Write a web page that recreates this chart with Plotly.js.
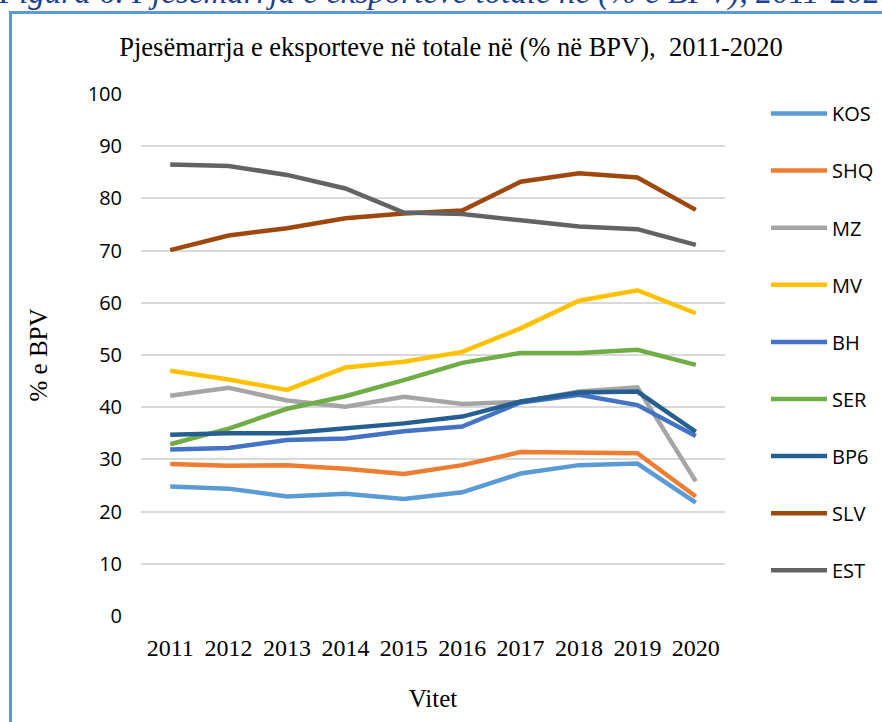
<!DOCTYPE html>
<html>
<head>
<meta charset="utf-8">
<script src="https://cdn.plot.ly/plotly-3.0.1.min.js"></script>
<style>
html,body{margin:0;padding:0;background:#fff;overflow:hidden;}
#wrap{position:relative;width:882px;height:722px;overflow:hidden;}
#frame{position:absolute;left:9px;top:11px;width:900px;height:800px;border-left:3px solid #5B9BD5;border-top:3px solid #5B9BD5;pointer-events:none;}
#chart{position:absolute;left:0;top:0;width:940px;height:722px;}
</style>
</head>
<body>
<div id="wrap"><div id="chart"></div><div id="frame"></div></div>
<script>
const years = ['2011','2012','2013','2014','2015','2016','2017','2018','2019','2020'];
const seriesNames = ['KOS','SHQ','MZ','MV','BH','SER','BP6','SLV','EST'];
const KOS = [24.8, 24.4, 22.9, 23.4, 22.4, 23.7, 27.3, 28.9, 29.2, 21.7];
const SHQ = [29.1, 28.8, 28.9, 28.2, 27.2, 28.9, 31.4, 31.4, 31.2, 22.9];
const MZ  = [42.2, 43.7, 41.3, 40.1, 42.0, 40.6, 41.0, 43.0, 43.8, 25.8];
const MV  = [47.0, 45.3, 43.3, 47.6, 48.7, 50.6, 55.1, 60.4, 62.4, 58.0];
const BH  = [31.9, 32.2, 33.7, 34.0, 35.4, 36.3, 40.9, 42.4, 40.4, 34.5];
const SER = [32.9, 35.9, 39.7, 42.1, 45.2, 48.5, 50.4, 50.4, 51.0, 48.1];
const BP6 = [34.7, 35.0, 35.0, 36.0, 36.9, 38.2, 41.1, 42.8, 43.0, 35.3];
const SLV = [70.1, 72.9, 74.3, 76.2, 77.1, 77.7, 83.2, 84.8, 84.0, 77.8];
const EST = [86.5, 86.2, 84.5, 81.9, 77.3, 77.0, 75.8, 74.6, 74.1, 71.1];
const seriesValues = [KOS, SHQ, MZ, MV, BH, SER, BP6, SLV, EST];
const seriesColors = ['#5B9BD5','#ED7D31','#A5A5A5','#FFC000','#4472C4','#70AD47','#255E91','#9E480E','#636363'];
const yTicks = [0,10,20,30,40,50,60,70,80,90,100];

const traces = seriesNames.map((n,i)=>({
  type:'scatter', mode:'lines', name:n, x:years, y:seriesValues[i],
  legendgroup:n,
  line:{color:seriesColors[i], width:4.5, shape:'linear'},
  hoverinfo:'x+y+name'
}));

const serif = 'Liberation Serif, Times New Roman, serif';
const sans = 'Open Sans, Lato, sans-serif';
const W = 940;

const layout = {
  width:W, height:722,
  margin:{l:141, r:W-725, t:94, b:106, pad:0},
  paper_bgcolor:'#fff', plot_bgcolor:'#fff',
  showlegend:true,
  title:{text:'Pjesëmarrja e eksporteve në totale në (% në BPV),  2011-2020',
    font:{family:serif, size:26.5, color:'#000'}, xref:'container', x:451/W, xanchor:'center',
    yref:'container', y:1-47/722, yanchor:'middle'},
  xaxis:{type:'category', categoryorder:'array', categoryarray:years,
    range:[-0.5, 9.5], showgrid:false, zeroline:false, showline:false, ticks:'',
    tickfont:{family:serif, size:24, color:'#000'}, ticklabelstandoff:15,
    title:{text:'Vitet', font:{family:serif, size:25, color:'#000'}, standoff:29}},
  yaxis:{range:[0,100], tickvals:yTicks, ticktext:yTicks.map(String), showgrid:true,
    gridcolor:'#D9D9D9', gridwidth:2, zeroline:false, showline:false, ticks:'',
    tickfont:{family:sans, size:20, color:'#000'}, ticklabelstandoff:18,
    title:{text:'% e BPV', font:{family:serif, size:25, color:'#000'}, standoff:32}},
  legend:{x:(766-141)/584, xanchor:'left', y:1.0, yanchor:'top', tracegroupgap:28.1,
    font:{family:sans, size:20, color:'#000'}, bgcolor:'rgba(0,0,0,0)', itemwidth:56},
  annotations:[{text:'<i>Figura 6. Pjesëmarrja e eksporteve totale në (% e BPV), 2011-2020</i>',
    xref:'paper', yref:'paper', x:(-4-141)/584, xanchor:'left', y:(616-13)/522, yanchor:'bottom',
    showarrow:false, font:{family:serif, size:33, color:'#1F3F8F'}}]
};
Plotly.newPlot('chart', traces, layout, {displayModeBar:false, staticPlot:true});
</script>
</body>
</html>
